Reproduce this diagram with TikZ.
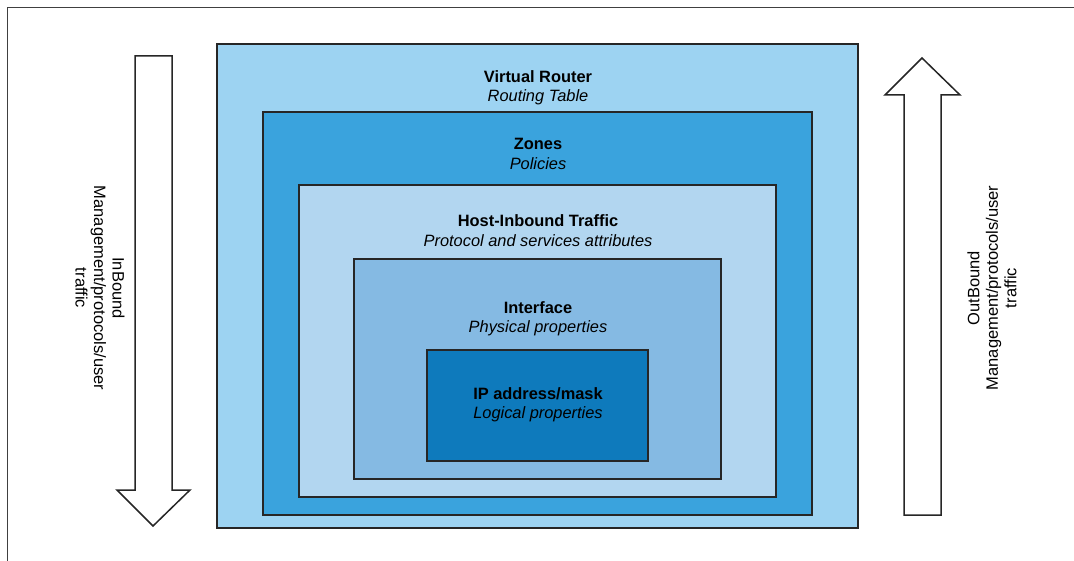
\documentclass[tikz,border=0pt]{standalone}
\usepackage{fontspec}
\setmainfont{Liberation Sans}
\definecolor{cVR}{RGB}{157,211,242}
\definecolor{cZ}{RGB}{58,163,221}
\definecolor{cHI}{RGB}{178,214,240}
\definecolor{cIF}{RGB}{133,186,227}
\definecolor{cIP}{RGB}{14,122,188}
\begin{document}
\begin{tikzpicture}[x=1pt,y=-1pt,
  box/.style={draw=black!85,line width=1.5pt},
  ttl/.style={font=\fontsize{16.4}{19}\selectfont\bfseries,inner sep=0pt},
  sub/.style={font=\fontsize{16.4}{19}\selectfont\itshape,inner sep=0pt},
  fat/.style={draw=black!85,line width=1.5pt,fill=white,line join=miter},
  side/.style={font=\fontsize{16.5}{18.5}\selectfont,align=center,inner sep=0pt}]
\useasboundingbox (0,0) rectangle (1074,561);
\draw[black!75,line width=1pt] (7.5,575) -- (7.5,8) -- (1080,8);
% nested boxes
\draw[box,fill=cVR] (217,44) rectangle (858,528);
\draw[box,fill=cZ] (263,112) rectangle (812,515);
\draw[box,fill=cHI] (299,185) rectangle (776,497);
\draw[box,fill=cIF] (354,259) rectangle (721,479);
\draw[box,fill=cIP] (427,350) rectangle (648,461);
% labels
\node[ttl] (vr) at (538,77) {Virtual Router};
\node[sub] (vrs) at (538,97) {Routing Table};
\node[ttl] (zn) at (538,144) {Zones};
\node[sub] (zns) at (538,164) {Policies};
\node[ttl] (hi) at (538,221) {Host-Inbound Traffic};
\node[sub] (his) at (538,241) {Protocol and services attributes};
\node[ttl] (if) at (538,308) {Interface};
\node[sub] (ifs) at (538,328) {Physical properties};
\node[ttl] (ip) at (538,394) {IP address/mask};
\node[sub] (ips) at (538,414) {Logical properties};
% arrows
\draw[fat] (135,56) -- (172,56) -- (172,490) -- (190,490) -- (153,526) -- (117,490) -- (135,490) -- cycle;
\draw[fat] (904,515) -- (941,515) -- (941,95) -- (960,95) -- (922,58) -- (885,95) -- (904,95) -- cycle;
% side texts
\node[side,rotate=-90] (inb) at (100,288) {InBound\\Management/protocols/user\\traffic};
\node[side,rotate=90] (outb) at (992,288) {OutBound\\Management/protocols/user\\traffic};
\end{tikzpicture}
\end{document}
